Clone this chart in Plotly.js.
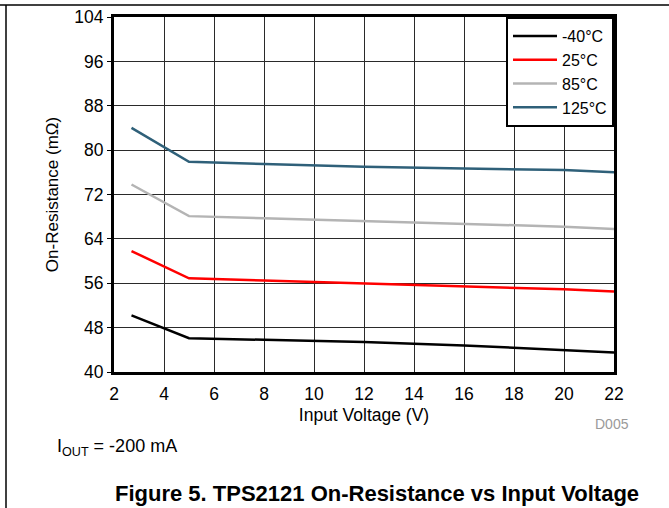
<!DOCTYPE html>
<html>
<head>
<meta charset="utf-8">
<script src="https://cdn.plot.ly/plotly-3.0.1.min.js"></script>
<style>html,body{margin:0;padding:0;background:#fff;}#chart{width:669px;height:508px;}</style>
</head>
<body>
<div id="chart"></div>
<script>
// Data
const voltage = [2.7, 5, 8, 12, 16, 20, 22];
const rMinus40 = [50.2, 46.1, 45.8, 45.4, 44.8, 44.0, 43.5];
const r25 = [61.8, 56.9, 56.5, 56.0, 55.5, 54.9, 54.5];
const r85 = [73.8, 68.1, 67.7, 67.2, 66.7, 66.2, 65.8];
const r125 = [84.0, 77.9, 77.5, 77.0, 76.7, 76.4, 76.0];
const seriesNames = ['-40°C', '25°C', '85°C', '125°C'];
const seriesColors = ['#000000', '#ff0000', '#b4b4b4', '#2f6079'];
const xTicks = [2, 4, 6, 8, 10, 12, 14, 16, 18, 20, 22];
const yTicks = [40, 48, 56, 64, 72, 80, 88, 96, 104];

const seriesValues = [rMinus40, r25, r85, r125];
const traces = seriesValues.map((vals, i) => ({
  x: voltage, y: vals, type: 'scatter', mode: 'lines',
  name: seriesNames[i],
  line: {color: seriesColors[i], width: 2.5}
}));

const fam = 'Liberation Sans, Arial, sans-serif';
const f = (s, c) => ({family: fam, size: s, color: c || '#000'});
const layout = {
  width: 669, height: 508,
  margin: {l: 114, r: 55, t: 17, b: 136},
  paper_bgcolor: '#fff', plot_bgcolor: '#fff',
  font: f(17),
  showlegend: true,
  legend: {
    x: 1, xanchor: 'right', y: 1, yanchor: 'top',
    bgcolor: '#fff', bordercolor: '#000', borderwidth: 2,
    font: f(16),
    tracegroupgap: 0, itemwidth: 44
  },
  xaxis: {
    range: [2, 22], tickvals: xTicks, ticktext: xTicks.map(String),
    showgrid: true, gridcolor: '#2a2a2a', gridwidth: 1,
    zeroline: false, showline: true, linecolor: '#000', linewidth: 3, mirror: true,
    ticks: '', tickfont: f(17.5), ticklabelstandoff: 4,
    title: {text: 'Input Voltage (V)', font: f(17.5), standoff: 6}
  },
  yaxis: {
    range: [40, 104], tickvals: yTicks, ticktext: yTicks.map(String),
    showgrid: true, gridcolor: '#2a2a2a', gridwidth: 1,
    zeroline: false, showline: true, linecolor: '#000', linewidth: 3, mirror: true,
    ticks: 'outside', ticklen: 4, tickcolor: '#000', tickwidth: 1,
    tickfont: f(17.5),
    title: {text: 'On-Resistance (mΩ)', font: f(17), standoff: 12}
  },
  shapes: [
    {type: 'line', xref: 'paper', yref: 'paper', x0: -0.3, x1: 1.2, y0: (372-5)/355, y1: (372-5)/355, line: {color: '#000', width: 1.5}},
    {type: 'line', xref: 'paper', yref: 'paper', x0: (6-114)/500, x1: (6-114)/500, y0: (372-5)/355, y1: -0.5, line: {color: '#000', width: 1.5}}
  ],
  annotations: [
    {xref: 'paper', yref: 'paper', x: (612-114)/500, y: (372-424)/355, xanchor: 'center', yanchor: 'middle', showarrow: false, text: 'D005', font: f(14, '#9a9a9a')},
    {xref: 'paper', yref: 'paper', x: (55-114)/500, y: (372-447)/355, xanchor: 'left', yanchor: 'middle', showarrow: false, text: 'I<sub>OUT</sub> = -200 mA', font: f(18)},
    {xref: 'paper', yref: 'paper', x: (377-114)/500, y: (372-493)/355, xanchor: 'center', yanchor: 'middle', showarrow: false, text: '<b>Figure 5. TPS2121 On-Resistance vs Input Voltage</b>', font: f(22)}
  ]
};

Plotly.newPlot('chart', traces, layout, {displayModeBar: false, staticPlot: true});
</script>
</body>
</html>
